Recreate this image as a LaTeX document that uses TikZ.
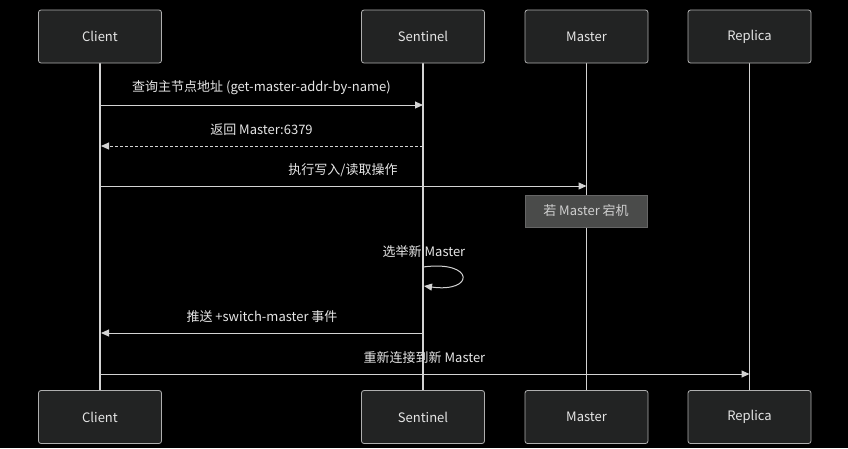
\documentclass[tikz,border=0pt]{standalone}
\usepackage{fontspec}
\setmainfont{Noto Sans CJK SC}
\usetikzlibrary{arrows.meta}
\definecolor{bgc}{HTML}{000000}
\definecolor{boxfill}{HTML}{222323}
\definecolor{boxline}{HTML}{AFAFAF}
\definecolor{linec}{HTML}{D3D3D3}
\definecolor{txt}{HTML}{E6E6E6}
\definecolor{notefill}{HTML}{4A4B4A}
\definecolor{noteline}{HTML}{666666}
\definecolor{notetxt}{HTML}{CFCFCF}
\tikzset{
  x=1pt,y=-1pt,
  actor/.style={draw=boxline,fill=boxfill,rounded corners=2.5pt,line width=0.8pt,
    minimum width=123pt,minimum height=53pt,inner sep=0pt,text=txt,font=\fontsize{13}{15}\selectfont},
  life/.style={draw=linec,line width=1.2pt},
  msg/.style={draw=linec,line width=1pt,-{Triangle[length=8pt,width=7pt]}},
  dmsg/.style={msg,dash pattern=on 3pt off 2pt},
  lbl/.style={text=txt,font=\fontsize{13}{15}\selectfont,inner sep=0pt},
  notebox/.style={draw=noteline,fill=notefill,line width=0.8pt,minimum width=122pt,minimum height=32pt,
    inner sep=0pt,text=notetxt,font=\fontsize{13}{15}\selectfont}
}
\begin{document}
\begin{tikzpicture}
\fill[bgc] (0,0) rectangle (848,448);
\useasboundingbox (0,0) rectangle (848,448);
% lifelines
\foreach \n/\x in {c/100,s/423,m/586.5,r/749.5}{
  \coordinate (\n t) at (\x,63);
  \coordinate (\n b) at (\x,390);
}
\draw[life] (ct) -- (cb);
\draw[life] (st) -- (sb);
\draw[life] (mt) -- (mb);
\draw[life] (rt) -- (rb);
% actors
\node[actor] (c1) at (100,36.5) {Client};
\node[actor] (s1) at (423,36.5) {Sentinel};
\node[actor] (m1) at (586.5,36.5) {Master};
\node[actor] (r1) at (749.5,36.5) {Replica};
\node[actor] (c2) at (100,417) {Client};
\node[actor] (s2) at (423,417) {Sentinel};
\node[actor] (m2) at (586.5,417) {Master};
\node[actor] (r2) at (749.5,417) {Replica};
% message anchor points
\coordinate (c105) at (100,105); \coordinate (s105) at (423,105);
\coordinate (c146) at (101,146); \coordinate (s146) at (423,146);
\coordinate (c186) at (100,186); \coordinate (m186) at (586.5,186);
\coordinate (c333) at (101,333); \coordinate (s333) at (423,333);
\coordinate (c374) at (100,374); \coordinate (r374) at (749.5,374);
\coordinate (sl1) at (423,267); \coordinate (sl2) at (424,286);
% messages
\draw[msg] (c105) -- (s105);
\node[lbl] at (261.5,88) {查询主节点地址 (get-master-addr-by-name)};
\draw[dmsg] (s146) -- (c146);
\node[lbl] at (261.5,130) {返回 Master:6379};
\draw[msg] (c186) -- (m186);
\node[lbl] at (343,170) {执行写入/读取操作};
\node[notebox] (note) at (586,211) {若 Master 宕机};
\node[lbl] at (424,252) {选举新 Master};
\draw[msg] (sl1) .. controls (475,260) and (475,293) .. (sl2);
\draw[msg] (s333) -- (c333);
\node[lbl] at (262,317) {推送 +switch-master 事件};
\draw[msg] (c374) -- (r374);
\node[lbl] at (424.5,358) {重新连接到新 Master};
\end{tikzpicture}
\end{document}
